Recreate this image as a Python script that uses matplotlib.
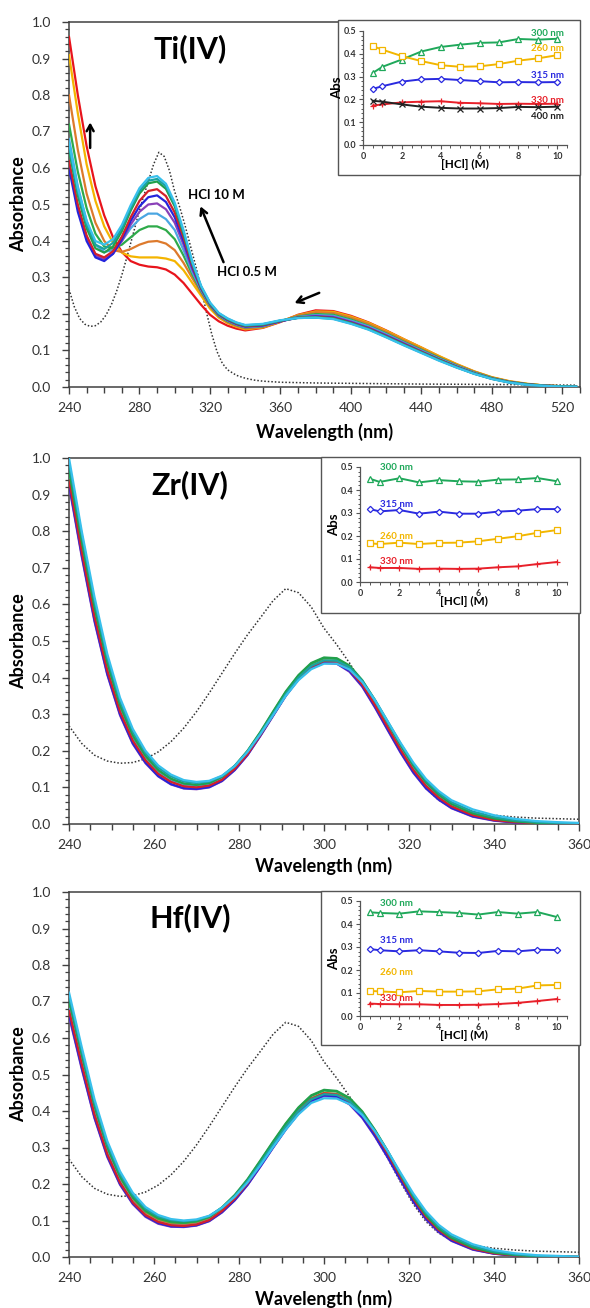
import matplotlib
matplotlib.use("Agg")
import matplotlib.pyplot as plt
from matplotlib.ticker import MultipleLocator, FormatStrFormatter
from matplotlib.patches import Rectangle

plt.rcParams['font.family'] = ['Lato', 'DejaVu Sans']

FIG_W, FIG_H = 590, 1308

# HCl concentrations (M) and the colour used for each spectrum
hcl_conc = [0.5, 1, 2, 3, 4, 5, 6, 7, 8, 9, 10]
curve_colors = ['#E8141C', '#F4B400', '#DD7A2C', '#2EAA4A', '#4AA6E2', '#8A40B8',
                '#2424DC', '#D4202A', '#22A04B', '#1AA3A0', '#38C0EC']

# ---------------- Ti(IV) spectra ----------------
wl_ti = [240, 245, 250, 255, 260, 265, 270, 275, 280, 285, 290, 295, 300, 305, 310,
         315, 320, 325, 330, 335, 340, 350, 360, 370, 380, 390, 400, 410, 420, 430,
         440, 450, 460, 470, 480, 490, 500, 510, 520, 528]
ti_05 = [0.96, 0.80, 0.66, 0.55, 0.47, 0.41, 0.37, 0.345, 0.335, 0.33, 0.328, 0.322, 0.308, 0.285, 0.255,
         0.225, 0.198, 0.18, 0.168, 0.16, 0.155, 0.162, 0.178, 0.198, 0.21, 0.208, 0.195, 0.177, 0.155, 0.131,
         0.108, 0.084, 0.062, 0.042, 0.026, 0.015, 0.008, 0.004, 0.002, 0.001]
ti_1 = [0.91, 0.75, 0.61, 0.51, 0.44, 0.395, 0.368, 0.358, 0.355, 0.355, 0.355, 0.352, 0.345, 0.32, 0.285,
        0.25, 0.215, 0.19, 0.175, 0.165, 0.158, 0.163, 0.179, 0.197, 0.207, 0.206, 0.193, 0.176, 0.154, 0.131,
        0.108, 0.085, 0.063, 0.043, 0.027, 0.016, 0.009, 0.004, 0.002, 0.001]
ti_2 = [0.80, 0.65, 0.53, 0.45, 0.40, 0.375, 0.37, 0.378, 0.39, 0.398, 0.40, 0.393, 0.375, 0.34, 0.298,
        0.258, 0.22, 0.193, 0.177, 0.167, 0.16, 0.164, 0.18, 0.196, 0.205, 0.203, 0.19, 0.173, 0.151, 0.128,
        0.105, 0.082, 0.061, 0.042, 0.026, 0.015, 0.008, 0.004, 0.002, 0.001]
ti_3 = [0.72, 0.59, 0.49, 0.42, 0.385, 0.38, 0.39, 0.41, 0.43, 0.44, 0.44, 0.43, 0.405, 0.36, 0.308,
        0.262, 0.223, 0.195, 0.18, 0.17, 0.163, 0.166, 0.18, 0.193, 0.2, 0.198, 0.185, 0.168, 0.147, 0.124,
        0.102, 0.08, 0.059, 0.04, 0.025, 0.014, 0.008, 0.004, 0.002, 0.001]
ti_4 = [0.68, 0.55, 0.455, 0.39, 0.37, 0.375, 0.40, 0.435, 0.46, 0.475, 0.475, 0.46, 0.43, 0.375, 0.315,
        0.265, 0.225, 0.197, 0.182, 0.171, 0.164, 0.167, 0.18, 0.192, 0.197, 0.195, 0.182, 0.166, 0.145, 0.122,
        0.1, 0.078, 0.058, 0.039, 0.024, 0.014, 0.007, 0.003, 0.002, 0.001]
ti_5 = [0.61, 0.49, 0.41, 0.36, 0.35, 0.365, 0.40, 0.445, 0.48, 0.50, 0.503, 0.487, 0.45, 0.39, 0.322,
        0.268, 0.226, 0.198, 0.183, 0.172, 0.165, 0.168, 0.18, 0.191, 0.195, 0.192, 0.179, 0.163, 0.142, 0.12,
        0.098, 0.076, 0.056, 0.038, 0.023, 0.013, 0.007, 0.003, 0.002, 0.001]
ti_6 = [0.60, 0.48, 0.40, 0.355, 0.345, 0.365, 0.405, 0.455, 0.495, 0.52, 0.525, 0.507, 0.465, 0.40, 0.328,
        0.27, 0.227, 0.199, 0.184, 0.173, 0.166, 0.169, 0.18, 0.19, 0.193, 0.19, 0.177, 0.161, 0.14, 0.118,
        0.096, 0.075, 0.055, 0.037, 0.023, 0.013, 0.007, 0.003, 0.002, 0.001]
ti_7 = [0.62, 0.50, 0.415, 0.365, 0.355, 0.372, 0.412, 0.465, 0.51, 0.537, 0.542, 0.523, 0.478, 0.41, 0.333,
        0.272, 0.228, 0.2, 0.185, 0.174, 0.167, 0.17, 0.181, 0.19, 0.192, 0.189, 0.176, 0.16, 0.139, 0.117,
        0.096, 0.075, 0.055, 0.037, 0.023, 0.013, 0.007, 0.003, 0.002, 0.001]
ti_8 = [0.65, 0.525, 0.435, 0.38, 0.368, 0.385, 0.427, 0.483, 0.53, 0.558, 0.563, 0.543, 0.495, 0.42, 0.338,
        0.274, 0.229, 0.201, 0.186, 0.175, 0.168, 0.171, 0.182, 0.19, 0.191, 0.188, 0.175, 0.159, 0.138, 0.116,
        0.095, 0.074, 0.054, 0.037, 0.023, 0.013, 0.007, 0.003, 0.002, 0.001]
ti_9 = [0.66, 0.535, 0.445, 0.39, 0.378, 0.395, 0.435, 0.49, 0.537, 0.565, 0.57, 0.55, 0.50, 0.425, 0.34,
        0.275, 0.23, 0.202, 0.187, 0.176, 0.169, 0.172, 0.182, 0.189, 0.19, 0.187, 0.174, 0.158, 0.137, 0.115,
        0.094, 0.073, 0.054, 0.036, 0.022, 0.012, 0.006, 0.003, 0.001, 0.001]
ti_10 = [0.67, 0.545, 0.455, 0.40, 0.39, 0.405, 0.444, 0.498, 0.545, 0.573, 0.578, 0.557, 0.505, 0.43, 0.343,
         0.277, 0.232, 0.203, 0.188, 0.177, 0.17, 0.173, 0.183, 0.189, 0.19, 0.186, 0.173, 0.157, 0.136, 0.114,
         0.093, 0.072, 0.053, 0.036, 0.022, 0.012, 0.006, 0.003, 0.001, 0.001]

# ---------------- Zr(IV) and Hf(IV) spectra (shared wavelength grid) ----------------
wl_zrhf = [240, 243, 246, 249, 252, 255, 258, 261, 264, 267, 270, 273, 276, 279, 282, 285,
           288, 291, 294, 297, 300, 303, 306, 309, 312, 315, 318, 321, 324, 327, 330,
           335, 340, 345, 350, 355, 360]
zr_05 = [0.965, 0.77, 0.59, 0.44, 0.322, 0.24, 0.184, 0.145, 0.122, 0.109, 0.105, 0.109, 0.125, 0.153, 0.193, 0.243,
         0.298, 0.353, 0.398, 0.43, 0.445, 0.443, 0.423, 0.383, 0.328, 0.268, 0.208, 0.153, 0.108, 0.075, 0.05,
         0.025, 0.012, 0.005, 0.002, 0.001, 0.0]
zr_1 = [0.96, 0.765, 0.585, 0.435, 0.318, 0.237, 0.182, 0.143, 0.121, 0.108, 0.104, 0.108, 0.124, 0.153, 0.193, 0.243,
        0.298, 0.353, 0.399, 0.431, 0.446, 0.444, 0.424, 0.384, 0.329, 0.269, 0.209, 0.154, 0.109, 0.076, 0.051,
        0.026, 0.012, 0.005, 0.002, 0.001, 0.0]
zr_2 = [0.955, 0.76, 0.58, 0.43, 0.315, 0.235, 0.18, 0.142, 0.12, 0.108, 0.105, 0.11, 0.126, 0.155, 0.195, 0.245,
        0.30, 0.355, 0.40, 0.432, 0.447, 0.445, 0.425, 0.385, 0.33, 0.27, 0.21, 0.155, 0.11, 0.077, 0.052,
        0.027, 0.013, 0.006, 0.003, 0.001, 0.0]
zr_3 = [0.95, 0.755, 0.577, 0.428, 0.313, 0.233, 0.178, 0.141, 0.119, 0.107, 0.104, 0.11, 0.127, 0.157, 0.198, 0.249,
        0.305, 0.36, 0.405, 0.438, 0.453, 0.451, 0.43, 0.39, 0.334, 0.273, 0.212, 0.156, 0.111, 0.077, 0.052,
        0.027, 0.013, 0.006, 0.003, 0.001, 0.0]
zr_4 = [0.945, 0.75, 0.572, 0.424, 0.31, 0.23, 0.176, 0.139, 0.117, 0.105, 0.102, 0.107, 0.123, 0.152, 0.192, 0.243,
        0.298, 0.353, 0.398, 0.43, 0.445, 0.443, 0.423, 0.384, 0.33, 0.27, 0.21, 0.155, 0.11, 0.077, 0.052,
        0.027, 0.013, 0.006, 0.003, 0.001, 0.0]
zr_5 = [0.925, 0.73, 0.553, 0.408, 0.297, 0.219, 0.166, 0.13, 0.108, 0.097, 0.095, 0.1, 0.117, 0.147, 0.188, 0.24,
        0.295, 0.35, 0.395, 0.425, 0.44, 0.438, 0.416, 0.375, 0.318, 0.256, 0.195, 0.14, 0.097, 0.066, 0.043,
        0.02, 0.009, 0.004, 0.002, 0.001, 0.0]
zr_6 = [0.93, 0.735, 0.557, 0.411, 0.3, 0.221, 0.168, 0.131, 0.109, 0.098, 0.096, 0.101, 0.118, 0.148, 0.189, 0.241,
        0.296, 0.351, 0.396, 0.427, 0.441, 0.439, 0.418, 0.377, 0.32, 0.258, 0.197, 0.142, 0.098, 0.067, 0.044,
        0.021, 0.01, 0.004, 0.002, 0.001, 0.0]
zr_7 = [0.94, 0.745, 0.567, 0.42, 0.307, 0.228, 0.174, 0.137, 0.115, 0.103, 0.1, 0.105, 0.121, 0.151, 0.191, 0.243,
        0.298, 0.353, 0.398, 0.43, 0.445, 0.443, 0.422, 0.381, 0.325, 0.264, 0.203, 0.148, 0.104, 0.072, 0.048,
        0.024, 0.011, 0.005, 0.002, 0.001, 0.0]
zr_8 = [0.965, 0.772, 0.592, 0.442, 0.325, 0.243, 0.187, 0.148, 0.124, 0.111, 0.107, 0.112, 0.129, 0.159, 0.2, 0.251,
        0.307, 0.362, 0.407, 0.44, 0.455, 0.453, 0.433, 0.393, 0.338, 0.277, 0.216, 0.16, 0.114, 0.08, 0.055,
        0.029, 0.015, 0.007, 0.003, 0.001, 0.0]
zr_9 = [0.985, 0.79, 0.608, 0.455, 0.336, 0.252, 0.194, 0.154, 0.13, 0.116, 0.112, 0.116, 0.131, 0.159, 0.198, 0.247,
        0.301, 0.355, 0.4, 0.432, 0.447, 0.446, 0.428, 0.391, 0.339, 0.28, 0.22, 0.165, 0.119, 0.085, 0.06,
        0.034, 0.019, 0.01, 0.005, 0.003, 0.001]
zr_10 = [1.0, 0.80, 0.62, 0.465, 0.345, 0.26, 0.2, 0.16, 0.135, 0.12, 0.115, 0.118, 0.132, 0.158, 0.197, 0.245,
         0.297, 0.35, 0.393, 0.423, 0.438, 0.438, 0.422, 0.388, 0.338, 0.28, 0.222, 0.168, 0.123, 0.09, 0.065,
         0.04, 0.024, 0.014, 0.008, 0.005, 0.003]

hf_05 = [0.685, 0.537, 0.398, 0.289, 0.21, 0.154, 0.118, 0.099, 0.089, 0.087, 0.091, 0.103, 0.128, 0.162, 0.204, 0.255,
         0.307, 0.357, 0.401, 0.434, 0.449, 0.446, 0.428, 0.392, 0.342, 0.285, 0.222, 0.162, 0.112, 0.075, 0.05,
         0.024, 0.011, 0.005, 0.002, 0.001, 0.0]
hf_1 = [0.69, 0.542, 0.403, 0.293, 0.213, 0.157, 0.121, 0.101, 0.091, 0.089, 0.093, 0.105, 0.129, 0.163, 0.205, 0.255,
        0.306, 0.356, 0.4, 0.432, 0.447, 0.444, 0.426, 0.391, 0.341, 0.285, 0.223, 0.163, 0.113, 0.076, 0.051,
        0.025, 0.012, 0.005, 0.002, 0.001, 0.0]
hf_2 = [0.70, 0.55, 0.41, 0.298, 0.217, 0.16, 0.123, 0.103, 0.093, 0.09, 0.094, 0.105, 0.13, 0.163, 0.205, 0.255,
        0.307, 0.357, 0.401, 0.434, 0.449, 0.446, 0.428, 0.392, 0.342, 0.285, 0.222, 0.162, 0.112, 0.075, 0.05,
        0.024, 0.011, 0.005, 0.002, 0.001, 0.0]
hf_3 = [0.70, 0.552, 0.412, 0.3, 0.219, 0.162, 0.125, 0.105, 0.095, 0.093, 0.097, 0.109, 0.134, 0.168, 0.211, 0.262,
        0.314, 0.364, 0.408, 0.441, 0.456, 0.453, 0.434, 0.397, 0.346, 0.288, 0.224, 0.163, 0.113, 0.076, 0.051,
        0.025, 0.012, 0.005, 0.002, 0.001, 0.0]
hf_4 = [0.68, 0.532, 0.394, 0.285, 0.206, 0.151, 0.115, 0.096, 0.087, 0.085, 0.089, 0.101, 0.125, 0.158, 0.2, 0.25,
        0.302, 0.352, 0.396, 0.429, 0.444, 0.441, 0.422, 0.386, 0.336, 0.279, 0.217, 0.158, 0.109, 0.073, 0.048,
        0.023, 0.01, 0.004, 0.002, 0.001, 0.0]
hf_5 = [0.66, 0.515, 0.38, 0.274, 0.198, 0.145, 0.11, 0.091, 0.083, 0.082, 0.086, 0.098, 0.122, 0.155, 0.197, 0.247,
        0.299, 0.349, 0.393, 0.426, 0.441, 0.438, 0.418, 0.381, 0.33, 0.272, 0.21, 0.151, 0.103, 0.068, 0.044,
        0.02, 0.009, 0.004, 0.001, 0.0, 0.0]
hf_6 = [0.665, 0.519, 0.383, 0.277, 0.2, 0.147, 0.112, 0.093, 0.084, 0.083, 0.087, 0.099, 0.123, 0.156, 0.198, 0.248,
        0.3, 0.35, 0.394, 0.428, 0.443, 0.44, 0.42, 0.383, 0.332, 0.274, 0.212, 0.153, 0.105, 0.07, 0.045,
        0.021, 0.009, 0.004, 0.001, 0.0, 0.0]
hf_7 = [0.675, 0.528, 0.39, 0.282, 0.204, 0.15, 0.115, 0.096, 0.087, 0.085, 0.089, 0.101, 0.126, 0.16, 0.202, 0.253,
        0.305, 0.355, 0.4, 0.433, 0.448, 0.445, 0.426, 0.39, 0.34, 0.283, 0.22, 0.16, 0.11, 0.074, 0.049,
        0.023, 0.01, 0.004, 0.002, 0.001, 0.0]
hf_8 = [0.705, 0.556, 0.415, 0.303, 0.222, 0.165, 0.128, 0.108, 0.098, 0.095, 0.099, 0.111, 0.136, 0.17, 0.213, 0.264,
        0.316, 0.366, 0.41, 0.443, 0.458, 0.455, 0.436, 0.399, 0.348, 0.29, 0.226, 0.165, 0.115, 0.078, 0.052,
        0.026, 0.012, 0.005, 0.002, 0.001, 0.0]
hf_9 = [0.715, 0.565, 0.423, 0.31, 0.228, 0.17, 0.132, 0.111, 0.101, 0.098, 0.101, 0.112, 0.135, 0.167, 0.208, 0.257,
        0.308, 0.357, 0.4, 0.432, 0.446, 0.444, 0.427, 0.393, 0.345, 0.289, 0.228, 0.169, 0.12, 0.083, 0.057,
        0.03, 0.015, 0.007, 0.003, 0.001, 0.0]
hf_10 = [0.725, 0.575, 0.432, 0.318, 0.235, 0.176, 0.137, 0.115, 0.104, 0.10, 0.103, 0.113, 0.135, 0.165, 0.204, 0.251,
         0.301, 0.349, 0.391, 0.422, 0.435, 0.434, 0.419, 0.389, 0.344, 0.29, 0.231, 0.174, 0.125, 0.088, 0.062,
         0.035, 0.019, 0.01, 0.005, 0.003, 0.001]

# ---------------- free ligand (dotted reference spectrum) ----------------
wl_ligand = [240, 243, 246, 249, 252, 255, 258, 261, 264, 267, 270, 273, 276, 279, 282, 285, 288, 291,
             294, 297, 300, 303, 306, 309, 312, 315, 318, 321, 324, 327, 330, 335, 340, 345, 350, 360,
             380, 400, 440, 480, 528]
abs_ligand = [0.268, 0.22, 0.188, 0.172, 0.166, 0.168, 0.178, 0.197, 0.225, 0.262, 0.307, 0.358, 0.412,
              0.466, 0.517, 0.563, 0.61, 0.643, 0.632, 0.593, 0.535, 0.49, 0.44, 0.385, 0.33, 0.27, 0.205,
              0.145, 0.097, 0.065, 0.047, 0.032, 0.024, 0.019, 0.016, 0.013, 0.011, 0.01, 0.008, 0.007, 0.005]

# ---------------- inset data: absorbance at fixed wavelengths vs [HCl] ----------------
ti_abs_300 = [0.316, 0.343, 0.375, 0.41, 0.43, 0.44, 0.448, 0.45, 0.465, 0.462, 0.466]
ti_abs_260 = [0.434, 0.418, 0.39, 0.368, 0.35, 0.343, 0.345, 0.355, 0.37, 0.38, 0.394]
ti_abs_315 = [0.246, 0.258, 0.278, 0.288, 0.29, 0.285, 0.28, 0.275, 0.276, 0.275, 0.276]
ti_abs_330 = [0.173, 0.178, 0.187, 0.19, 0.192, 0.185, 0.183, 0.18, 0.181, 0.18, 0.181]
ti_abs_400 = [0.194, 0.19, 0.178, 0.168, 0.163, 0.16, 0.16, 0.162, 0.167, 0.166, 0.168]

zr_abs_300 = [0.449, 0.435, 0.451, 0.433, 0.443, 0.438, 0.436, 0.445, 0.446, 0.452, 0.438]
zr_abs_315 = [0.317, 0.307, 0.313, 0.297, 0.306, 0.297, 0.297, 0.306, 0.31, 0.317, 0.317]
zr_abs_260 = [0.168, 0.165, 0.171, 0.165, 0.17, 0.171, 0.177, 0.188, 0.199, 0.214, 0.226]
zr_abs_330 = [0.064, 0.061, 0.061, 0.057, 0.058, 0.057, 0.058, 0.064, 0.068, 0.078, 0.087]

hf_abs_300 = [0.451, 0.448, 0.445, 0.455, 0.452, 0.448, 0.441, 0.452, 0.445, 0.452, 0.43]
hf_abs_315 = [0.291, 0.286, 0.281, 0.286, 0.281, 0.275, 0.274, 0.283, 0.281, 0.288, 0.287]
hf_abs_260 = [0.109, 0.107, 0.103, 0.109, 0.106, 0.106, 0.107, 0.116, 0.119, 0.133, 0.135]
hf_abs_330 = [0.054, 0.052, 0.051, 0.051, 0.048, 0.048, 0.049, 0.052, 0.057, 0.065, 0.074]

GREEN, GOLD, BLUE, RED, BLACK = '#1FA85A', '#F2B600', '#2A2AE0', '#E8202A', '#222222'
AXIS_GREY = '#404040'
TICK_GREY = '#333333'


def px_rect(left, top, right, bottom):
    return [left / FIG_W, 1 - bottom / FIG_H, (right - left) / FIG_W, (bottom - top) / FIG_H]


fig = plt.figure(figsize=(FIG_W / 100, FIG_H / 100), dpi=100)


def main_panel(rect, wl, spectra, xmax, xmajor, xminor, title, title_y, xlabelpad):
    ax = fig.add_axes(px_rect(*rect))
    ax.plot(wl_ligand, abs_ligand, linestyle=(0, (1, 1.3)), color='#333333', lw=1.1, zorder=2)
    for spec, col in zip(spectra, curve_colors):
        ax.plot(wl, spec, color=col, lw=1.6, zorder=3, solid_capstyle='round')
    ax.set_xlim(240, xmax)
    ax.set_ylim(0, 1.0)
    ax.xaxis.set_major_locator(MultipleLocator(xmajor))
    ax.xaxis.set_minor_locator(MultipleLocator(xminor))
    ax.yaxis.set_major_locator(MultipleLocator(0.1))
    ax.yaxis.set_minor_locator(MultipleLocator(0.02))
    ax.yaxis.set_major_formatter(FormatStrFormatter('%.1f'))
    ax.tick_params(axis='both', which='major', direction='out', length=5, width=1.0,
                   color=AXIS_GREY, labelsize=10, labelcolor=TICK_GREY)
    ax.tick_params(axis='x', which='major', pad=6)
    ax.tick_params(axis='y', which='major', pad=8)
    ax.tick_params(axis='x', which='minor', direction='out', length=4, width=1.0, color=AXIS_GREY)
    ax.tick_params(axis='y', which='minor', direction='out', length=3, width=0.9, color=AXIS_GREY)
    for sp in ax.spines.values():
        sp.set_color(AXIS_GREY)
        sp.set_linewidth(1.1)
    ax.set_xlabel('Wavelength (nm)', fontsize=13, fontweight='bold', labelpad=xlabelpad)
    ax.set_ylabel('Absorbance', fontsize=13, fontweight='bold', labelpad=3)
    ax.text(0.237, title_y, title, transform=ax.transAxes, fontsize=22, fontweight='bold',
            ha='center', va='center')
    return ax


def inset_panel(frame, rect, series, labels):
    fig.add_artist(Rectangle((frame[0] / FIG_W, 1 - frame[3] / FIG_H),
                             (frame[2] - frame[0]) / FIG_W, (frame[3] - frame[1]) / FIG_H,
                             transform=fig.transFigure, facecolor='white', edgecolor='#555555',
                             lw=1.0, zorder=2))
    ax = fig.add_axes(px_rect(*rect), zorder=3)
    ax.patch.set_alpha(0)
    for vals, col, mk, ms in series:
        ax.plot(hcl_conc, vals, color=col, lw=1.4, marker=mk, ms=ms, mfc='white',
                mec=col, mew=0.9)
    for txt, x, y, col, ha in labels:
        ax.text(x, y, txt, color=col, fontsize=7, fontweight='bold', ha=ha, va='center')
    ax.set_xlim(0, 10.5)
    ax.set_ylim(0, 0.5)
    ax.xaxis.set_major_locator(MultipleLocator(2))
    ax.xaxis.set_minor_locator(MultipleLocator(0.5))
    ax.yaxis.set_major_locator(MultipleLocator(0.1))
    ax.yaxis.set_minor_locator(MultipleLocator(0.02))
    ax.yaxis.set_major_formatter(FormatStrFormatter('%.1f'))
    ax.spines['top'].set_visible(False)
    ax.spines['right'].set_visible(False)
    for s in ('left', 'bottom'):
        ax.spines[s].set_color('#555555')
        ax.spines[s].set_linewidth(0.9)
    ax.tick_params(which='major', direction='out', length=3, width=0.8, color='#555555',
                   labelsize=6.5, labelcolor=TICK_GREY, pad=2)
    ax.tick_params(which='minor', direction='out', length=1.8, width=0.7, color='#555555')
    for lab in ax.get_xticklabels() + ax.get_yticklabels():
        lab.set_fontweight('bold')
    ax.set_xlabel('[HCl] (M)', fontsize=8.5, fontweight='bold', labelpad=-1.5)
    ax.set_ylabel('Abs', fontsize=9.5, fontweight='bold', labelpad=0)
    return ax


# ---- Ti(IV) ----
ax_ti = main_panel((69, 22, 580, 387), wl_ti,
                   [ti_05, ti_1, ti_2, ti_3, ti_4, ti_5, ti_6, ti_7, ti_8, ti_9, ti_10],
                   530, 40, 10, 'Ti(IV)', 0.926, 6)
ax_ti.text(307.7, 0.526, 'HCl 10 M', fontsize=9.5, fontweight='bold', ha='left', va='center')
ax_ti.text(324.2, 0.315, 'HCl 0.5 M', fontsize=9.5, fontweight='bold', ha='left', va='center')
arrow_kw = dict(arrowstyle='->,head_length=0.45,head_width=0.25', lw=1.8, color='black',
                shrinkA=0, shrinkB=0)
ax_ti.annotate('', xy=(314.6, 0.495), xytext=(327.7, 0.342), arrowprops=arrow_kw)
ax_ti.annotate('', xy=(252.0, 0.725), xytext=(252.0, 0.655), arrowprops=arrow_kw)
ax_ti.annotate('', xy=(368.0, 0.230), xytext=(382.0, 0.258), arrowprops=arrow_kw)

inset_panel((338, 20, 580, 175), (363, 31, 567, 145),
            [(ti_abs_300, GREEN, '^', 4.5), (ti_abs_260, GOLD, 's', 4.5),
             (ti_abs_315, BLUE, 'D', 3.2), (ti_abs_330, RED, '+', 5),
             (ti_abs_400, BLACK, 'x', 4)],
            [('300 nm', 10.35, 0.49, GREEN, 'right'), ('260 nm', 10.35, 0.425, GOLD, 'right'),
             ('315 nm', 10.35, 0.303, BLUE, 'right'), ('330 nm', 10.35, 0.197, RED, 'right'),
             ('400 nm', 10.35, 0.127, BLACK, 'right')])

# ---- Zr(IV) ----
main_panel((69, 458, 579, 824), wl_zrhf,
           [zr_05, zr_1, zr_2, zr_3, zr_4, zr_5, zr_6, zr_7, zr_8, zr_9, zr_10],
           360, 20, 5, 'Zr(IV)', 0.926, 4)
inset_panel((321, 457, 580, 613), (360, 467, 567, 582),
            [(zr_abs_300, GREEN, '^', 4.5), (zr_abs_315, BLUE, 'D', 3.2),
             (zr_abs_260, GOLD, 's', 4.5), (zr_abs_330, RED, '+', 5)],
            [('300 nm', 1.0, 0.50, GREEN, 'left'), ('315 nm', 1.0, 0.339, BLUE, 'left'),
             ('260 nm', 1.0, 0.196, GOLD, 'left'), ('330 nm', 1.0, 0.087, RED, 'left')])

# ---- Hf(IV) ----
main_panel((69, 892, 579, 1257), wl_zrhf,
           [hf_05, hf_1, hf_2, hf_3, hf_4, hf_5, hf_6, hf_7, hf_8, hf_9, hf_10],
           360, 20, 5, 'Hf(IV)', 0.93, 4)
inset_panel((321, 891, 580, 1045), (360, 901, 567, 1016),
            [(hf_abs_300, GREEN, '^', 4.5), (hf_abs_315, BLUE, 'D', 3.2),
             (hf_abs_260, GOLD, 's', 4.5), (hf_abs_330, RED, '+', 5)],
            [('300 nm', 1.0, 0.491, GREEN, 'left'), ('315 nm', 1.0, 0.33, BLUE, 'left'),
             ('260 nm', 1.0, 0.187, GOLD, 'left'), ('330 nm', 1.0, 0.078, RED, 'left')])

fig.savefig('out.png', dpi=100, facecolor='white')
